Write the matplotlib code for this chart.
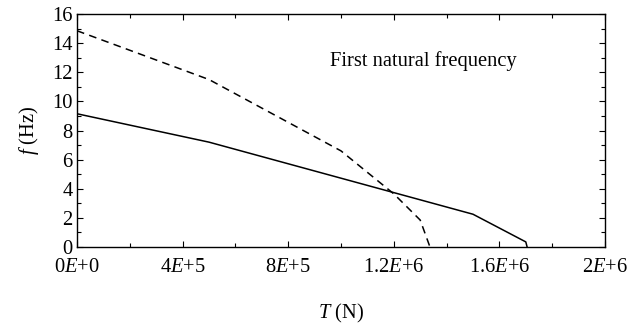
import matplotlib
matplotlib.use("Agg")
import matplotlib.pyplot as plt
from matplotlib.ticker import MultipleLocator

plt.rcParams['font.family'] = ['Liberation Serif', 'DejaVu Serif']
plt.rcParams['mathtext.fontset'] = 'custom'
plt.rcParams['mathtext.rm'] = 'Liberation Serif'
plt.rcParams['mathtext.it'] = 'Liberation Serif:italic'

# data
solid_T = [0, 5e5, 1.5e6, 1.7e6, 1.705e6]
solid_f = [9.15, 7.2, 2.25, 0.35, 0.0]
dashed_T = [0, 5e5, 1e6, 1.2e6, 1.3e6, 1.337e6]
dashed_f = [14.85, 11.5, 6.6, 3.65, 1.85, 0.0]
xticks = [0, 4e5, 8e5, 1.2e6, 1.6e6, 2e6]
xticklabels = ['0$E$+0', '4$E$+5', '8$E$+5', '1.2$E$+6', '1.6$E$+6', '2$E$+6']
yticks = [0, 2, 4, 6, 8, 10, 12, 14, 16]

FS = 14.8

fig = plt.figure(figsize=(6.29, 3.26), dpi=100)
ax = fig.add_axes([77/629, 1-247/326, 528/629, 233/326])
ax.plot(solid_T, solid_f, color='black', lw=1.1)
ax.plot(dashed_T, dashed_f, color='black', lw=1.1, ls=(0, (5, 3.5)))
ax.set_xlim(0, 2e6)
ax.set_ylim(0, 16)
ax.set_xticks(xticks)
ax.set_xticklabels(xticklabels)
ax.set_yticks(yticks)
ax.xaxis.set_minor_locator(MultipleLocator(2e5))
ax.yaxis.set_minor_locator(MultipleLocator(1))
ax.tick_params(which='both', direction='in', top=True, right=True, labelsize=FS, width=0.8)
ax.tick_params(which='major', length=4)
ax.tick_params(which='minor', length=3)
ax.tick_params(axis='x', which='major', pad=8)
ax.tick_params(axis='y', which='major', pad=3)
for s in ax.spines.values():
    s.set_linewidth(1.0)
ax.text(0.958e6, 12.8, 'First natural frequency', fontsize=FS, va='center', ha='left')
ax.set_xlabel('$T$ (N)', fontsize=FS, labelpad=18)
ax.set_ylabel('$f$ (Hz)', fontsize=FS, labelpad=8)
fig.savefig('out.png', dpi=100)
